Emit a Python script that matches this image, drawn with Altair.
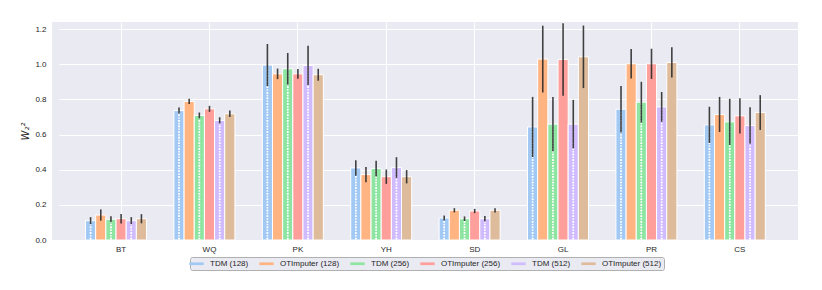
import altair as alt
import pandas as pd

categories = ["BT", "WQ", "PK", "YH", "SD", "GL", "PR", "CS"]
series = ["TDM (128)", "OTImputer (128)", "TDM (256)", "OTImputer (256)", "TDM (512)", "OTImputer (512)"]
colors = ["#A1C9F4", "#FFB482", "#8DE5A1", "#FF9F9B", "#D0BBFF", "#DEBB9B"]

# mean values, one list per series (order follows categories)
tdm128 = [0.110, 0.736, 0.995, 0.410, 0.125, 0.643, 0.744, 0.655]
oti128 = [0.142, 0.788, 0.945, 0.372, 0.169, 1.029, 1.002, 0.714]
tdm256 = [0.118, 0.708, 0.974, 0.406, 0.121, 0.659, 0.784, 0.672]
oti256 = [0.121, 0.746, 0.945, 0.360, 0.165, 1.027, 1.002, 0.706]
tdm512 = [0.110, 0.680, 0.993, 0.412, 0.121, 0.659, 0.757, 0.651]
oti512 = [0.121, 0.718, 0.940, 0.360, 0.169, 1.042, 1.010, 0.725]

# error half-widths
tdm128_err = [0.020, 0.017, 0.120, 0.044, 0.014, 0.171, 0.132, 0.103]
oti128_err = [0.032, 0.015, 0.030, 0.043, 0.012, 0.190, 0.084, 0.100]
tdm256_err = [0.017, 0.017, 0.090, 0.045, 0.013, 0.154, 0.116, 0.131]
oti256_err = [0.027, 0.017, 0.028, 0.041, 0.012, 0.206, 0.086, 0.100]
tdm512_err = [0.020, 0.018, 0.112, 0.059, 0.016, 0.138, 0.085, 0.104]
oti512_err = [0.026, 0.019, 0.034, 0.038, 0.012, 0.178, 0.086, 0.099]

y_ticks = [0.0, 0.2, 0.4, 0.6, 0.8, 1.0, 1.2]

vals = [tdm128, oti128, tdm256, oti256, tdm512, oti512]
errs = [tdm128_err, oti128_err, tdm256_err, oti256_err, tdm512_err, oti512_err]
rows = []
for s, v, e in zip(series, vals, errs):
    for c, vv, ee in zip(categories, v, e):
        rows.append({"cat": c, "series": s, "value": vv, "err": ee})
df = pd.DataFrame(rows)

FONT = "Liberation Sans"
offset_domain = series + ["_gap"]

x_enc = alt.X("cat:N", sort=categories, title=None,
              scale=alt.Scale(paddingInner=0.195, paddingOuter=0.3, range=[7, 750]),
              axis=alt.Axis(labelAngle=0, bandPosition=0.5, labelPadding=5, grid=True))
xo_enc = alt.XOffset("series:N", sort=offset_domain,
                     scale=alt.Scale(domain=offset_domain, paddingInner=0, paddingOuter=0))
y_scale = alt.Scale(domain=[0, 1.24], nice=False, zero=True)
y_axis = alt.Axis(values=y_ticks, format=".1f", title="W₂²", labelPadding=6, labelOverlap=False,
                  titlePadding=4, titleFontStyle="italic", titleFontWeight="normal",
                  titleFontSize=10, titleFont="DejaVu Sans", grid=True)

base = alt.Chart(df)

bars = base.mark_bar(stroke="white", strokeWidth=1).encode(
    x=x_enc,
    xOffset=xo_enc,
    y=alt.Y("value:Q", scale=y_scale, axis=y_axis),
    color=alt.Color("series:N", sort=series,
                    scale=alt.Scale(domain=series, range=colors),
                    legend=alt.Legend(title=None, orient="none", legendX=138, legendY=235,
                                      direction="horizontal", columns=6, columnPadding=10,
                                      symbolType="M-1.6,-0.3L1.6,-0.3L1.6,0.3L-1.6,0.3Z",
                                      symbolSize=81, symbolStrokeWidth=0, symbolOpacity=1,
                                      labelFontSize=8, labelFont=FONT, labelOffset=9,
                                      labelColor="#262626", rowPadding=0,
                                      padding=2, fillColor="#EAEAF2", strokeColor="#B0B0B0",
                                      cornerRadius=2)),
)

def dots(start, dxs):
    layers = []
    for dx in dxs:
        layers.append(
            base.transform_filter("indexof(datum.series, 'TDM') == 0")
            .transform_calculate(ys=f"sequence({start}, datum.value - 0.004, 0.0319)")
            .transform_flatten(["ys"])
            .mark_square(size=2.6, color="white", opacity=0.95, dx=dx)
            .encode(x=x_enc, xOffset=xo_enc, y=alt.Y("ys:Q", scale=y_scale, axis=y_axis))
        )
    return layers

dot_layers = dots(0.008, [-2.6, 2.6]) + dots(0.024, [0])

errbars = base.transform_calculate(
    lo="datum.value - datum.err", hi="datum.value + datum.err"
).mark_rule(color="#222222", strokeWidth=1.6, opacity=0.85).encode(
    x=x_enc, xOffset=xo_enc,
    y=alt.Y("lo:Q", scale=y_scale, axis=y_axis), y2="hi:Q",
)

chart = alt.layer(bars, *dot_layers, errbars).properties(
    width=746, height=218, padding={"left": 12, "top": 14, "right": 5, "bottom": 5},
    background="white",
).configure_view(fill="#EAEAF2", strokeWidth=0).configure_axis(
    domain=False, ticks=False, gridColor="white", gridWidth=1,
    labelFont=FONT, labelFontSize=8, labelColor="#262626", titleColor="#262626",
)

chart.save("out.html", embed_options={"renderer": "svg", "actions": False})
